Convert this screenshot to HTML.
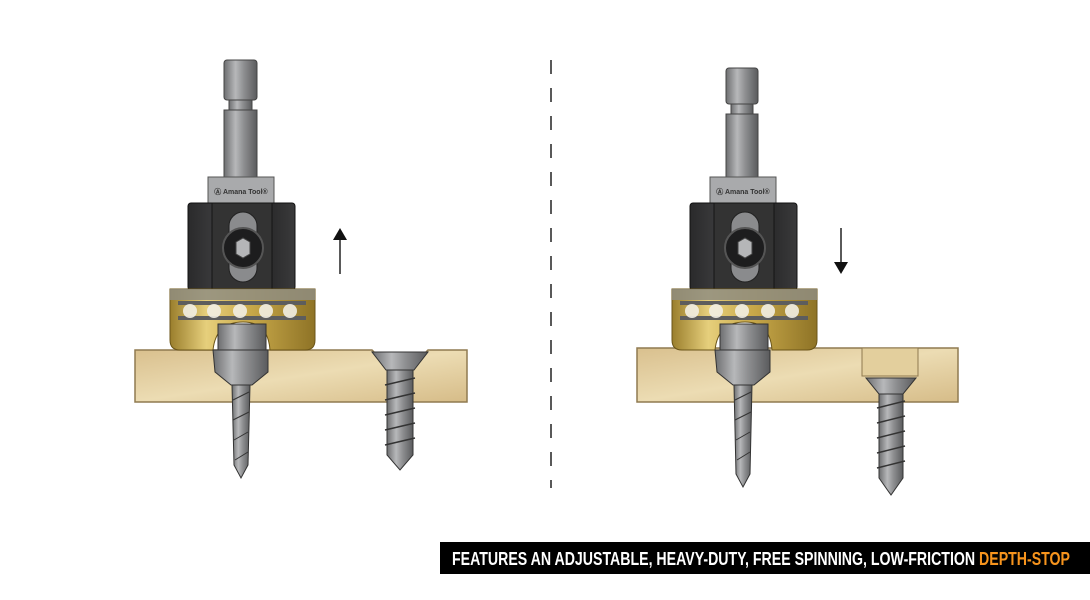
<!DOCTYPE html>
<html><head><meta charset="utf-8"><style>
html,body{margin:0;padding:0;background:#fff;width:1090px;height:600px;overflow:hidden}
</style></head><body>
<svg width="1090" height="600" viewBox="0 0 1090 600" xmlns="http://www.w3.org/2000/svg">
<defs>
<linearGradient id="steel" x1="0" x2="1"><stop offset="0" stop-color="#6d6e70"/><stop offset=".35" stop-color="#b7b8ba"/><stop offset=".6" stop-color="#8e8f91"/><stop offset="1" stop-color="#5a5b5d"/></linearGradient>
<linearGradient id="blk" x1="0" x2="1"><stop offset="0" stop-color="#2a2a2b"/><stop offset=".3" stop-color="#3e3e40"/><stop offset=".7" stop-color="#262627"/><stop offset="1" stop-color="#3a3a3b"/></linearGradient>
<linearGradient id="gold" x1="0" x2="1"><stop offset="0" stop-color="#9a7e2c"/><stop offset=".25" stop-color="#e6cf7c"/><stop offset=".55" stop-color="#c9a94a"/><stop offset="1" stop-color="#8e7326"/></linearGradient>
<linearGradient id="wood" x1="0" x2="1" y1="0" y2="1"><stop offset="0" stop-color="#d9c08e"/><stop offset=".5" stop-color="#ecdcb3"/><stop offset="1" stop-color="#d6bc88"/></linearGradient>
<g id="tool">
  <rect x="208" y="177" width="66" height="26" fill="#a9aaac" stroke="#555" stroke-width="1"/>
  <text x="241" y="194" font-family="Liberation Sans,sans-serif" font-size="7" font-weight="bold" fill="#333" text-anchor="middle">Ⓐ Amana Tool®</text>
  <rect x="188" y="203" width="107" height="87" rx="3" fill="url(#blk)" stroke="#111"/>
  <rect x="212" y="203" width="60" height="87" fill="#333" stroke="#151515"/>
  <rect x="229" y="212" width="28" height="70" rx="14" fill="#8a8b8d" stroke="#222"/>
  <circle cx="243" cy="248" r="20" fill="#1d1d1e" stroke="#555" stroke-width="2"/>
  <polygon points="236,242 243,238 250,242 250,254 243,258 236,254" fill="#b5b6b8" stroke="#444"/>
  <path d="M170 289 H315 V340 Q315 350 305 350 H270 Q268 322 243 322 Q216 322 213 350 H180 Q170 350 170 340 Z" fill="url(#gold)" stroke="#6b5518"/>
  <rect x="170" y="289" width="145" height="11" fill="#8f8d80" opacity=".85"/>
  <rect x="178" y="301" width="128" height="4" fill="#5d5d5d"/>
  <rect x="178" y="316" width="128" height="4" fill="#5d5d5d"/>
  <g fill="#f2efe4" opacity=".9"><circle cx="190" cy="311" r="7"/><circle cx="214" cy="311" r="7"/><circle cx="240" cy="311" r="7"/><circle cx="266" cy="311" r="7"/><circle cx="290" cy="311" r="7"/></g>
  <path d="M218 324 H266 V350 H218 Z" fill="url(#steel)" stroke="#333"/>
</g>
</defs>

<!-- LEFT -->
<rect x="224" y="60" width="33" height="40" rx="3" fill="url(#steel)" stroke="#444"/>
<rect x="229" y="100" width="23" height="10" fill="url(#steel)" stroke="#444"/>
<rect x="224" y="110" width="33" height="68" fill="url(#steel)" stroke="#444"/>
<path d="M135 350 H372 L380 358 H420 L428 350 H467 V402 H135 Z" fill="url(#wood)" stroke="#8f7a50" stroke-width="1.5"/>
<use href="#tool"/>
<path d="M213 350 H268 V372 L252 385 H231 L215 372 Z" fill="url(#steel)" stroke="#333"/>
<path d="M232 385 H250 L248 465 L241 478 L234 465 Z" fill="url(#steel)" stroke="#333"/>
<g stroke="#333" stroke-width="1"><line x1="233" y1="400" x2="249" y2="392"/><line x1="233" y1="420" x2="249" y2="412"/><line x1="234" y1="440" x2="248" y2="432"/><line x1="235" y1="460" x2="248" y2="452"/></g>
<path d="M372 352 H428 L414 370 H386 Z" fill="url(#steel)" stroke="#333"/>
<path d="M387 370 H413 V455 L400 470 L387 455 Z" fill="url(#steel)" stroke="#333"/>
<g stroke="#333" stroke-width="1.5"><line x1="385" y1="385" x2="415" y2="378"/><line x1="385" y1="400" x2="415" y2="393"/><line x1="385" y1="415" x2="415" y2="408"/><line x1="385" y1="430" x2="415" y2="423"/><line x1="385" y1="445" x2="415" y2="438"/></g>
<line x1="340" y1="238" x2="340" y2="274" stroke="#222" stroke-width="1.5"/>
<polygon points="333,240 347,240 340,228" fill="#111"/>

<line x1="551" y1="60" x2="551" y2="488" stroke="#222" stroke-width="1.5" stroke-dasharray="14,14"/>

<!-- RIGHT -->
<rect x="726" y="68" width="32" height="36" rx="3" fill="url(#steel)" stroke="#444"/>
<rect x="731" y="104" width="22" height="10" fill="url(#steel)" stroke="#444"/>
<rect x="726" y="114" width="32" height="70" fill="url(#steel)" stroke="#444"/>
<rect x="637" y="348" width="321" height="54" fill="url(#wood)" stroke="#8f7a50" stroke-width="1.5"/>
<g transform="translate(502,0)"><use href="#tool"/></g>
<path d="M715 350 H770 V372 L754 385 H733 L717 372 Z" fill="url(#steel)" stroke="#333"/>
<path d="M734 385 H752 L750 474 L743 487 L736 474 Z" fill="url(#steel)" stroke="#333"/>
<g stroke="#333" stroke-width="1"><line x1="735" y1="400" x2="751" y2="392"/><line x1="735" y1="420" x2="751" y2="412"/><line x1="736" y1="440" x2="750" y2="432"/><line x1="737" y1="460" x2="750" y2="452"/></g>
<rect x="862" y="348" width="56" height="28" fill="#e3cf9d" stroke="#8f7a50"/>
<path d="M866 378 H916 L903 394 H879 Z" fill="url(#steel)" stroke="#333"/>
<path d="M879 394 H903 V478 L891 495 L879 478 Z" fill="url(#steel)" stroke="#333"/>
<g stroke="#333" stroke-width="1.5"><line x1="877" y1="408" x2="905" y2="401"/><line x1="877" y1="423" x2="905" y2="416"/><line x1="877" y1="438" x2="905" y2="431"/><line x1="877" y1="453" x2="905" y2="446"/><line x1="877" y1="468" x2="905" y2="461"/></g>
<line x1="841" y1="228" x2="841" y2="264" stroke="#222" stroke-width="1.5"/>
<polygon points="834,262 848,262 841,274" fill="#111"/>

<rect x="440" y="542" width="650" height="32" fill="#000"/>
<text x="452" y="565" font-family="Liberation Sans Narrow,Liberation Sans,sans-serif" font-weight="bold" font-size="18" fill="#fff" textLength="618" lengthAdjust="spacingAndGlyphs">FEATURES AN ADJUSTABLE, HEAVY-DUTY, FREE SPINNING, LOW-FRICTION <tspan fill="#f7941d">DEPTH-STOP</tspan></text>
</svg>
</body></html>
